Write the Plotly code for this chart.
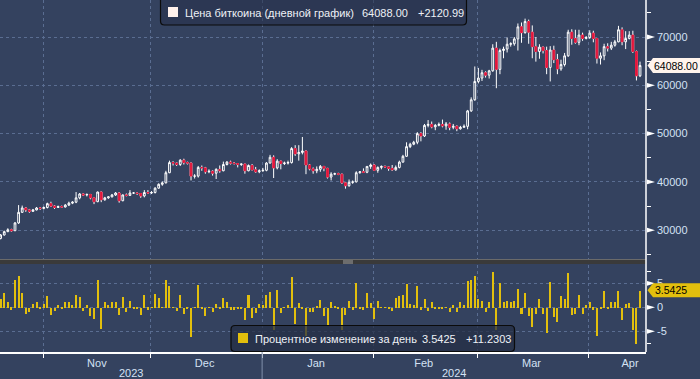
import pandas as pd
import plotly.graph_objects as go

# ---------------- data ----------------
dates = pd.date_range("2023-10-19", "2024-04-14", freq="D")
first_open = 28300
close = [
    29000, 29700, 30100, 29900, 31500, 33700, 34600, 34200, 33900, 34200,
    34600, 34500, 34700, 35500, 35000, 34700, 34900, 34800, 35200, 35600,
    35800, 36700, 37500, 37300, 37400, 36700, 35900, 37900, 36300, 36700,
    36900, 37300, 37700, 36100, 37300, 37200, 37700, 37700, 37600, 37100,
    37800, 37700, 37800, 38700, 39500, 39800, 41900, 44000, 43900, 43600,
    44500, 44000, 43900, 41200, 41200, 43000, 42900, 42100, 42200, 41800,
    42600, 42300, 43600, 44100, 43900, 43800, 43600, 43700, 42300, 43400,
    42500, 42100, 42300, 42400, 43900, 45100, 42900, 44300, 43800, 43900,
    44000, 46900, 45800, 46100, 46400, 43500, 42700, 42300, 42600, 43200,
    42800, 41000, 41600, 41700, 41600, 39800, 39200, 39900, 40000, 41900,
    42100, 42000, 43200, 43500, 42400, 43000, 43200, 43100, 42800, 42500,
    43000, 44100, 45300, 47300, 47800, 48200, 50000, 49500, 51700, 51900,
    51400, 51700, 51900, 51600, 52000, 51300, 51500, 51000, 51300, 51500,
    54700, 57000, 60800, 61500, 62600, 62100, 63000, 67700, 63300, 67200,
    67500, 68500, 68600, 69600, 72100, 70900, 73200, 71000, 68000, 67000,
    67900, 67200, 63700, 67300, 65300, 63400, 64300, 66100, 71000, 69700,
    68900, 70400, 69700, 69900, 70800, 69700, 65600, 66100, 68000, 67700,
    68300, 69000, 71500, 69000, 69700, 70400, 67000, 61967.01, 64088.00,
]
high = [
    29200, 29900, 30400, 30300, 31700, 35200, 35100, 34800, 34400, 34400,
    34800, 34800, 34900, 35700, 35900, 35200, 35100, 35100, 35400, 35900,
    36000, 37900, 37700, 37600, 37600, 37500, 36800, 38000, 38000, 36900,
    37000, 37500, 37900, 37900, 37400, 37600, 38300, 37900, 37800, 37700,
    38300, 38300, 38100, 38900, 39700, 40100, 42300, 44400, 44300, 44000,
    44700, 44800, 44200, 44000, 41600, 43300, 43400, 43100, 42600, 42400,
    42800, 43400, 44200, 44300, 44400, 44100, 43900, 43800, 43700, 43600,
    43700, 43100, 42600, 42900, 44100, 45600, 45500, 44700, 44400, 44200,
    44400, 47200, 47600, 47600, 49300, 46500, 43700, 43000, 43200, 43500,
    43300, 42900, 42000, 41900, 41900, 41700, 40000, 40500, 40300, 42200,
    42200, 42800, 43300, 43800, 43700, 43200, 43400, 43400, 43200, 43500,
    43400, 44400, 45600, 48200, 48100, 48500, 50300, 50300, 52000, 52800,
    52500, 52000, 52300, 52900, 52400, 52300, 52000, 51700, 51600, 51900,
    54900, 57500, 63900, 63600, 63200, 62900, 63200, 68500, 69000, 67600,
    68000, 69900, 68900, 70000, 72800, 73000, 73800, 73600, 72400, 70000,
    68500, 68000, 68000, 68100, 68200, 66500, 65300, 66700, 71500, 71600,
    71500, 71500, 70900, 70200, 71400, 71300, 69800, 66800, 68600, 68700,
    69000, 69400, 72300, 72000, 71200, 71200, 71300, 67200, 64900,
]
low = [
    28100, 28900, 29600, 29700, 29800, 31300, 33600, 33800, 33600, 33800,
    34100, 34200, 34300, 34500, 34800, 34400, 34600, 34600, 34700, 35000,
    35400, 35600, 36400, 37100, 37000, 36400, 35400, 35800, 35800, 36100,
    36500, 36800, 37100, 35700, 36000, 37000, 37100, 37500, 37300, 36700,
    36800, 37500, 37500, 37600, 38600, 39200, 39700, 41800, 43400, 43300,
    43300, 43600, 43600, 40300, 40700, 40900, 42300, 41700, 41800, 41300,
    40600, 41900, 42200, 43400, 43600, 43600, 43000, 43300, 41700, 42200,
    42400, 41900, 41800, 42100, 42200, 43800, 40800, 42600, 42600, 43500,
    43600, 43800, 45400, 44400, 45700, 41600, 42400, 41700, 41800, 42100,
    42200, 40700, 40300, 41400, 41400, 39600, 38600, 39000, 39600, 39900,
    41700, 41900, 41800, 42700, 42300, 41900, 42600, 42900, 42300, 42300,
    42300, 42800, 44000, 45200, 47000, 47600, 47800, 48400, 49300, 51300,
    51100, 50700, 51500, 51300, 50800, 50700, 50900, 50500, 50800, 51200,
    50900, 54500, 56800, 60400, 60900, 61600, 61400, 62800, 59400, 62300,
    65600, 66800, 68000, 68200, 67200, 68800, 70700, 68600, 65600, 64900,
    65500, 66600, 62300, 60800, 64600, 62300, 63000, 63900, 65900, 68400,
    68600, 68300, 69200, 69500, 69600, 68900, 64500, 64300, 65200, 67000,
    67300, 68000, 68900, 68300, 67500, 69500, 66700, 61000, 61700,
]
pct_change = [
    1.9, 3.0, 1.2, -0.4, 5.7, 6.7, 3.0, -1.25, -0.9, 0.8,
    1.3, -0.2, 0.7, 2.4, -1.5, -0.6, 0.5, -0.2, 1.3, 1.3,
    0.5, 2.6, 2.2, -0.6, 0.5, -1.8, -2.3, 5.7, -4.4, 1.3,
    0.5, 1.2, 1.2, -1.6, 2.2, -0.9, 1.5, -0.1, -0.2, -1.5,
    2.6, -0.4, 0.1, 2.8, 2.0, 0.1, 5.7, 4.5, 0.1, -0.6,
    2.7, -1.25, -0.1, -6.0, 0.1, 4.7, -0.1, -1.7, 0.1, -0.8,
    0.8, -0.1, 2.0, 1.2, -0.4, -0.4, -0.2, -0.1, -2.5, 2.6,
    -2.1, -1.0, 0.8, 0.5, 2.6, 3.3, -4.7, 3.75, -1.0, 0.1,
    0.6, 6.5, -3.3, 1.0, -0.2, -5.8, -0.9, -0.8, 0.3, 1.7,
    -1.8, -3.7, 1.3, 0.3, -0.1, -4.7, -1.6, 1.5, -0.4, 5.2,
    -0.2, -0.4, 3.0, 1.0, -2.3, 1.5, 0.05, 0.05, -0.2, -0.6,
    2.1, 2.4, 2.6, 4.9, 0.8, 0.5, 4.5, -0.4, 1.9, -0.6,
    1.2, -0.1, -0.1, -0.1, 0.1, -0.9, 0.5, -0.9, 1.2, 0.5,
    5.5, 5.9, 6.7, 1.9, 1.5, -0.8, 1.2, 7.4, -4.7, 5.2,
    1.3, 1.5, 1.2, 1.5, 4.0, -1.25, 3.0, -1.8, -3.9, -1.25,
    1.9, -1.25, -5.3, 5.3, -2.0, -3.0, 2.4, 1.9, 7.2, -1.6,
    -1.25, 2.7, -1.25, 0.5, 1.3, -0.4, -5.8, -0.1, 3.5, -0.1,
    1.3, 1.3, 3.5, -2.6, 0.8, 1.0, -4.7, -7.5, 3.5425,
]
month_starts = ["2023-11-01", "2023-12-01", "2024-01-01", "2024-02-01", "2024-03-01", "2024-04-01"]
month_label_pos = ["2023-11-16", "2023-12-16", "2024-01-16", "2024-02-15", "2024-03-16", "2024-04-12 10:00"]
month_labels = ["Nov", "Dec", "Jan", "Feb", "Mar", "Apr"]
year_labels = ["2023", "2024"]
price_ticks = [30000, 40000, 50000, 60000, 70000]
price_minor = [25000, 35000, 45000, 55000, 65000, 75000]
pct_ticks = [-5, 0, 5]
pct_minor = [-7.5, 7.5]
legend_price = "Цена биткоина (дневной график)"
legend_pct = "Процентное изменение за день"
legend_pct_extra = "+11.2303"

# ---------------- styling ----------------
BG = "#34425f"
GRID = "#5a6d91"
RED = "#e3173c"
GOLD = "#e2bf0d"
TXT = "#d3e1f4"
FONT = "Liberation Sans, Arial, sans-serif"
PW, PH = 646.0, 352.0


def px(v):
    return v / PW


def py(v):
    return (PH - v) / PH


opens = [first_open] + close[:-1]
# Bloomberg draws each daily candle at the close of the day
xs = dates + pd.Timedelta(hours=29)

dec_idx = [i for i in range(len(close)) if close[i] < opens[i]]

fig = go.Figure()
fig.add_trace(go.Candlestick(
    x=xs, open=opens, high=high, low=low, close=close,
    increasing=dict(line=dict(color="#ffffff", width=1), fillcolor=BG),
    decreasing=dict(line=dict(color="#ffffff", width=1), fillcolor=RED),
    whiskerwidth=0, xaxis="x", yaxis="y", showlegend=False, hoverinfo="skip",
))
fig.add_trace(go.Candlestick(
    x=[xs[i] for i in dec_idx],
    open=[opens[i] for i in dec_idx], high=[opens[i] for i in dec_idx],
    low=[close[i] for i in dec_idx], close=[close[i] for i in dec_idx],
    increasing=dict(line=dict(color=RED, width=1), fillcolor=RED),
    decreasing=dict(line=dict(color=RED, width=1), fillcolor=RED),
    whiskerwidth=0, xaxis="x", yaxis="y", showlegend=False, hoverinfo="skip",
))
fig.add_trace(go.Bar(
    x=xs, y=pct_change, marker=dict(color=GOLD, line=dict(width=0)),
    width=0.56 * 86400000, xaxis="x2", yaxis="y2", showlegend=False, hoverinfo="skip",
))

xrange = ["2023-10-20 00:42", "2024-04-16 20:53"]
grid_minor = dict(tickmode="array", tickvals=month_starts, showgrid=True, gridcolor=GRID,
                  griddash="3px,3px", gridwidth=1)

fig.update_layout(
    width=700, height=379, margin=dict(l=0, r=54, t=0, b=27, autoexpand=False),
    paper_bgcolor=BG, plot_bgcolor=BG, font=dict(family=FONT, size=11, color=TXT),
    bargap=0,
    xaxis=dict(domain=[0, 1], anchor="y", range=xrange, type="date",
               tickmode="array", tickvals=month_label_pos, ticktext=month_labels,
               showticklabels=False, ticks="", showgrid=False, zeroline=False,
               minor=dict(grid_minor, ticks=""), rangeslider=dict(visible=False)),
    xaxis2=dict(domain=[0, 1], anchor="y2", range=xrange, type="date",
                tickmode="array", tickvals=month_label_pos, ticktext=month_labels,
                ticks="", showgrid=False, zeroline=False,
                tickfont=dict(size=11, color=TXT),
                showline=True, linecolor="#ffffff", linewidth=1.5,
                minor=dict(grid_minor, ticks="outside", ticklen=4, tickcolor="#ffffff", tickwidth=1)),
    yaxis=dict(domain=[py(259), 1], anchor="x", side="right", range=[24037, 77660],
               tickmode="array", tickvals=price_ticks, ticktext=[str(v) for v in price_ticks],
               ticks="", showgrid=True, gridcolor=GRID, griddash="3px,3px", zeroline=False,
               ticklabelstandoff=10, tickfont=dict(size=11, color=TXT),
               minor=dict(tickmode="array", tickvals=price_minor, ticks="outside", ticklen=4,
                          tickcolor="#ffffff", showgrid=False)),
    yaxis2=dict(domain=[0, py(264.5)], anchor="x2", side="right", range=[-9.31, 8.92],
                tickmode="array", tickvals=pct_ticks, ticktext=[str(v) for v in pct_ticks],
                ticks="", showgrid=True, gridcolor=GRID, griddash="3px,3px", zeroline=False,
                ticklabelstandoff=10, tickfont=dict(size=11, color=TXT),
                minor=dict(tickmode="array", tickvals=pct_minor, ticks="outside", ticklen=4,
                           tickcolor="#ffffff", showgrid=False)),
)

shapes = []
# separator between the panels
shapes.append(dict(type="rect", xref="paper", yref="paper", x0=0, x1=1, y0=py(264), y1=py(259.5),
                   fillcolor="#3a3a3a", line=dict(width=0), layer="above"))
shapes.append(dict(type="line", xref="paper", yref="paper", x0=0, x1=1, y0=py(259.5), y1=py(259.5),
                   line=dict(color="#6a6a6a", width=1)))
for gy in (261, 263):
    shapes.append(dict(type="line", xref="paper", yref="paper", x0=px(343), x1=px(353), y0=py(gy), y1=py(gy),
                       line=dict(color="#a0a0a0", width=1)))
# right axis line through both panels
shapes.append(dict(type="line", xref="paper", yref="paper", x0=1, x1=1, y0=0, y1=1,
                   line=dict(color="#ffffff", width=1.5)))
# year separator under the axis
shapes.append(dict(type="line", xref="x2", yref="paper", x0="2024-01-01", x1="2024-01-01",
                   y0=0, y1=py(379), line=dict(color="#8090aa", width=1)))

# tick markers (small white triangles next to the labels)
tx0, tx1 = px(647), px(655)
for v in price_ticks:
    d = 2.4 * (77660 - 24037) / 259
    shapes.append(dict(type="path", xref="paper", yref="y",
                       path=f"M {tx0},{v - d} L {tx0},{v + d} L {tx1},{v} Z",
                       fillcolor="#ffffff", line=dict(width=0)))
for v in pct_ticks:
    d = 2.4 * (8.92 + 9.31) / (352 - 264.5)
    shapes.append(dict(type="path", xref="paper", yref="y2",
                       path=f"M {tx0},{v - d} L {tx0},{v + d} L {tx1},{v} Z",
                       fillcolor="#ffffff", line=dict(width=0)))


def rrect(x0, y0, x1, y1, r):
    pts = [
        ("M", [(x0 + r, y0)]), ("L", [(x1 - r, y0)]), ("Q", [(x1, y0), (x1, y0 + r)]),
        ("L", [(x1, y1 - r)]), ("Q", [(x1, y1), (x1 - r, y1)]), ("L", [(x0 + r, y1)]),
        ("Q", [(x0, y1), (x0, y1 - r)]), ("L", [(x0, y0 + r)]), ("Q", [(x0, y0), (x0 + r, y0)]),
    ]
    s = ""
    for cmd, ps in pts:
        s += cmd + " " + " ".join(f"{px(a):.5f},{py(b):.5f}" for a, b in ps) + " "
    return s + "Z"


# legend boxes
shapes.append(dict(type="path", xref="paper", yref="paper", path=rrect(160.5, -4, 466.5, 25, 4),
                   fillcolor="rgba(38,48,72,0.55)", line=dict(color="#0b0b0b", width=1.2)))
shapes.append(dict(type="rect", xref="paper", yref="paper", x0=px(168), x1=px(178), y0=py(17), y1=py(7),
                   fillcolor="#fff1ec", line=dict(width=0)))
shapes.append(dict(type="path", xref="paper", yref="paper", path=rrect(231, 325.5, 514.5, 351.5, 4),
                   fillcolor="rgba(36,46,68,0.72)", line=dict(color="#0b0b0b", width=1.2)))
shapes.append(dict(type="rect", xref="paper", yref="paper", x0=px(238), x1=px(248), y0=py(343), y1=py(333),
                   fillcolor=GOLD, line=dict(width=0)))

# last value boxes on the right axis
last_price = close[-1]
dp = 7.5 * (77660 - 24037) / 259
shapes.append(dict(type="path", xref="paper", yref="y",
                   path=(f"M {px(647.5)},{last_price} L {px(653)},{last_price + dp} L {px(702)},{last_price + dp} "
                         f"L {px(702)},{last_price - dp} L {px(653)},{last_price - dp} Z"),
                   fillcolor="#fff4ec", line=dict(width=0)))
last_pct = pct_change[-1]
dq = 7.0 * (8.92 + 9.31) / (352 - 264.5)
shapes.append(dict(type="path", xref="paper", yref="y2",
                   path=(f"M {px(647.5)},{last_pct} L {px(653)},{last_pct + dq} L {px(702)},{last_pct + dq} "
                         f"L {px(702)},{last_pct - dq} L {px(653)},{last_pct - dq} Z"),
                   fillcolor=GOLD, line=dict(width=0)))
fig.update_layout(shapes=shapes)

ann = []
price_chg = close[-1] - close[-2]
leg_font = dict(size=11, color="#eef1f6", family=FONT)
ann.append(dict(xref="paper", yref="paper", x=px(183), y=py(12.5), text=legend_price,
                xanchor="left", yanchor="middle", showarrow=False, font=leg_font))
ann.append(dict(xref="paper", yref="paper", x=px(360), y=py(12.5), text=f"{close[-1]:.2f}",
                xanchor="left", yanchor="middle", showarrow=False, font=leg_font))
ann.append(dict(xref="paper", yref="paper", x=px(416), y=py(12.5), text=f"{price_chg:+.2f}",
                xanchor="left", yanchor="middle", showarrow=False, font=leg_font))
ann.append(dict(xref="paper", yref="paper", x=px(253), y=py(338.5), text=legend_pct,
                xanchor="left", yanchor="middle", showarrow=False, font=leg_font))
ann.append(dict(xref="paper", yref="paper", x=px(420), y=py(338.5), text=f"{pct_change[-1]:.4f}",
                xanchor="left", yanchor="middle", showarrow=False, font=leg_font))
ann.append(dict(xref="paper", yref="paper", x=px(464), y=py(338.5), text=legend_pct_extra,
                xanchor="left", yanchor="middle", showarrow=False, font=leg_font))
# value boxes text
ann.append(dict(xref="paper", yref="y", x=px(652.5), y=last_price, text=f"{last_price:.2f}",
                xanchor="left", yanchor="middle", showarrow=False, font=dict(size=10.5, color="#000000")))
ann.append(dict(xref="paper", yref="y2", x=px(653), y=last_pct, text=f"{last_pct:.4f}",
                xanchor="left", yanchor="middle", showarrow=False, font=dict(size=10.5, color="#000000")))
# year labels
ann.append(dict(xref="paper", yref="paper", x=px(131), y=py(372.5), text=year_labels[0],
                xanchor="center", yanchor="middle", showarrow=False, font=dict(size=11, color=TXT)))
ann.append(dict(xref="paper", yref="paper", x=px(454), y=py(372.5), text=year_labels[1],
                xanchor="center", yanchor="middle", showarrow=False, font=dict(size=11, color=TXT)))
fig.update_layout(annotations=ann)

fig.write_html("out.html", config={"displayModeBar": False},
               post_script="document.body.style.margin='0';document.body.style.overflow='hidden';")
